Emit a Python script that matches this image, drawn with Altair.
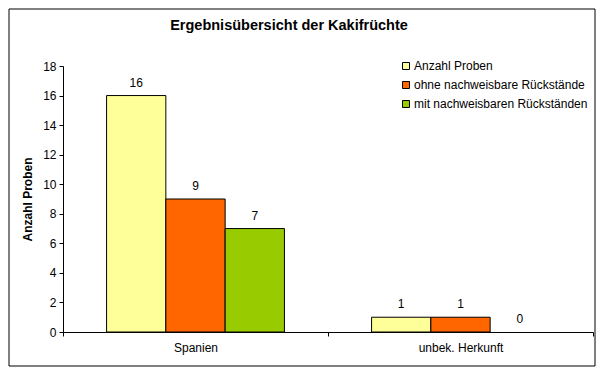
import altair as alt
import pandas as pd

categories = ["Spanien", "unbek. Herkunft"]
series = ["Anzahl Proben", "ohne nachweisbare Rückstände", "mit nachweisbaren Rückständen"]
values_anzahl = [16, 1]
values_ohne = [9, 1]
values_mit = [7, 0]
colors = ["#FFFF99", "#FF6600", "#99CC00"]
y_ticks = [0, 2, 4, 6, 8, 10, 12, 14, 16, 18]
title_text = "Ergebnisübersicht der Kakifrüchte"

rows = []
for s, vals in zip(series, [values_anzahl, values_ohne, values_mit]):
    for c, v in zip(categories, vals):
        rows.append({"Herkunft": c, "Serie": s, "Wert": v})
df = pd.DataFrame(rows)

FONT = "Liberation Sans"

x_axis = alt.Axis(title=None, labelAngle=0, tickBand="extent", tickSize=4,
                  labelPadding=6, labelFontSize=12, labelFont=FONT,
                  labelColor="black", domainColor="black", tickColor="black")
y_axis = alt.Axis(title="Anzahl Proben", values=y_ticks, grid=False, tickSize=4,
                  labelOverlap=False, labelFlush=False, labelBound=False,
                  labelPadding=3, labelFontSize=12, labelFont=FONT, labelColor="black",
                  titleFont=FONT, titleFontSize=12, titleFontWeight="bold",
                  titleColor="black", titlePadding=8,
                  domainColor="black", tickColor="black")

x_enc = alt.X("Herkunft:N", sort=categories,
              scale=alt.Scale(paddingInner=0, paddingOuter=0), axis=x_axis)
xoff_enc = alt.XOffset("Serie:N", sort=series,
                       scale=alt.Scale(paddingInner=0, paddingOuter=0.735))
y_enc = alt.Y("Wert:Q", scale=alt.Scale(domain=[0, 18], nice=False, zero=True), axis=y_axis)

base = alt.Chart(df)

bars = base.mark_bar(stroke="black", strokeWidth=1).encode(
    x=x_enc, xOffset=xoff_enc, y=y_enc,
    color=alt.Color("Serie:N", sort=series,
                    scale=alt.Scale(domain=series, range=colors),
                    legend=alt.Legend(title=None, orient="none", legendX=337, legendY=-6,
                                      symbolType="square", symbolSize=49,
                                      symbolStrokeColor="black", symbolStrokeWidth=1,
                                      labelFont=FONT, labelFontSize=12, labelColor="black",
                                      labelOffset=2, rowPadding=7, padding=0,
                                      labelLimit=300)),
    opacity=alt.condition(alt.datum.Wert > 0, alt.value(1), alt.value(0)),
)

labels = base.mark_text(dy=-9, baseline="alphabetic", fontSize=12, font=FONT, color="black").encode(
    x=x_enc, xOffset=xoff_enc, y=y_enc, text="Wert:Q",
)

border = alt.Chart(pd.DataFrame({"a": [0]})).mark_rect(
    fill="transparent", stroke="black", strokeWidth=1
).encode(x=alt.value(-54), x2=alt.value(532), y=alt.value(-57), y2=alt.value(300))

title = alt.Chart(pd.DataFrame({"t": [title_text]})).mark_text(
    font=FONT, fontSize=14.5, fontWeight="bold", color="black", align="center", baseline="middle"
).encode(x=alt.value(226), y=alt.value(-40), text="t:N")

chart = alt.layer(border, title, bars, labels).properties(
    width=530, height=266,
    autosize=alt.AutoSizeParams(type="none"),
    padding={"left": 55, "top": 58, "right": 3, "bottom": 35},
).configure_view(stroke=None).configure_axisY(labelOverlap=False)

chart.save("out.html", embed_options={"renderer": "svg", "actions": False})
